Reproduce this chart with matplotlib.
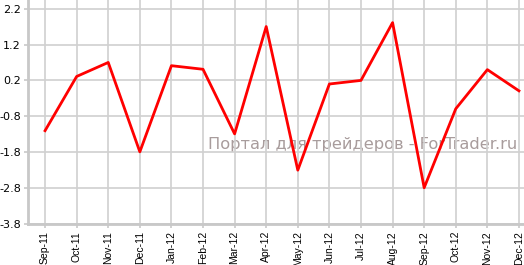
import matplotlib
matplotlib.use("Agg")
import matplotlib.pyplot as plt

months = ["Sep-11", "Oct-11", "Nov-11", "Dec-11", "Jan-12", "Feb-12", "Mar-12", "Apr-12",
          "May-12", "Jun-12", "Jul-12", "Aug-12", "Sep-12", "Oct-12", "Nov-12", "Dec-12"]
values = [-1.20, 0.31, 0.70, -1.79, 0.61, 0.51, -1.29, 1.70,
          -2.30, 0.10, 0.20, 1.81, -2.79, -0.59, 0.50, -0.09]
yticks = [2.2, 1.2, 0.2, -0.8, -1.8, -2.8, -3.8]

fig = plt.figure(figsize=(5.24, 2.65), dpi=100)
ax = fig.add_axes([28 / 524, 41 / 265, 1 - 28 / 524, 1 - 41 / 265])

x = list(range(len(months)))
ax.plot(x, values, color="#ff0000", lw=2, zorder=3)

ax.set_xlim(-0.54, 15.16)
ax.set_ylim(-3.8, 2.44)
ax.set_xticks(x)
ax.set_xticklabels(months, rotation=90, fontsize=7.5, family="Liberation Sans")
ax.set_yticks(yticks)
ax.set_yticklabels([f"{v:.1f}" for v in yticks], fontsize=8, family="DejaVu Sans")

ax.grid(True, color="#d0d0d0", lw=1.2, zorder=0)
for side in ["top", "right"]:
    ax.spines[side].set_visible(False)
for side in ["left", "bottom"]:
    ax.spines[side].set_color("#c8c8c8")
    ax.spines[side].set_linewidth(2)
ax.tick_params(axis="both", colors="#c8c8c8", labelcolor="black", length=3, width=1.2, pad=2)

ax.text(208 / 524, 116 / 265, "Портал для трейдеров - ForTrader.ru", transform=fig.transFigure,
        fontsize=11.7, color="#a89c9c", family="DejaVu Sans", va="baseline", zorder=1)

fig.savefig("out.png", dpi=100)
